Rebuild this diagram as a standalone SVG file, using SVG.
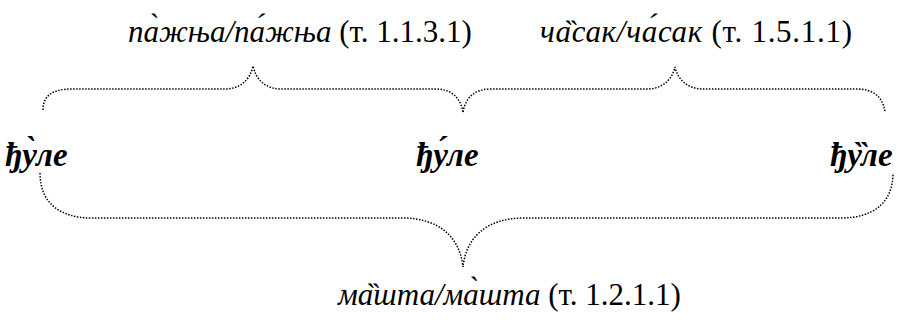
<svg xmlns="http://www.w3.org/2000/svg" width="899" height="322" viewBox="0 0 899 322">
<style>
text{fill:#000;font-family:"Liberation Serif","Times New Roman",serif}
.lab{font-size:31px}
.it{font-style:italic}
.w{font-size:33px;font-style:italic;font-weight:bold}
.br{fill:none;stroke:#000;stroke-width:1.5;stroke-dasharray:1.5 1.5}
</style>
<rect width="899" height="322" fill="#fff"/>
<g id="connectors">
<path class="br" d="M43,110 C43,96 52,89 72,89 L225,89 C240,89 250,80 253,66 C256,80 266,89 281,89 L435,89 C450,89 460,96 463,112"/>
<path class="br" d="M463,112 C466,96 476,89 491,89 L647,89 C662,89 672,80 675,67 C678,80 688,89 703,89 L857,89 C872,89 883,96 885,112"/>
<path class="br" d="M40,173 C40,203 60,218 92,218 L402,218 C440,218 460,238 463,267 C466,238 486,218 524,218 L841,218 C873,218 893,203 893,173"/>
</g>
<g id="label-pazhnja"><text class="lab" x="128" y="42"><tspan class="it">па̀жња/па́жња</tspan> (т. 1.1.3.1)</text></g>
<g id="label-chasak"><text class="lab" x="540" y="42" textLength="312" lengthAdjust="spacing"><tspan class="it">ча̏сак/ча́сак</tspan> (т. 1.5.1.1)</text></g>
<g id="word-left"><text class="w" x="5" y="166">ђу̀ле</text></g>
<g id="word-mid"><text class="w" x="416" y="166">ђу́ле</text></g>
<g id="word-right"><text class="w" x="830" y="166">ђу̏ле</text></g>
<g id="label-mashta"><text class="lab" x="338" y="305"><tspan class="it">ма̏шта/ма̀шта</tspan> (т. 1.2.1.1)</text></g>
</svg>
